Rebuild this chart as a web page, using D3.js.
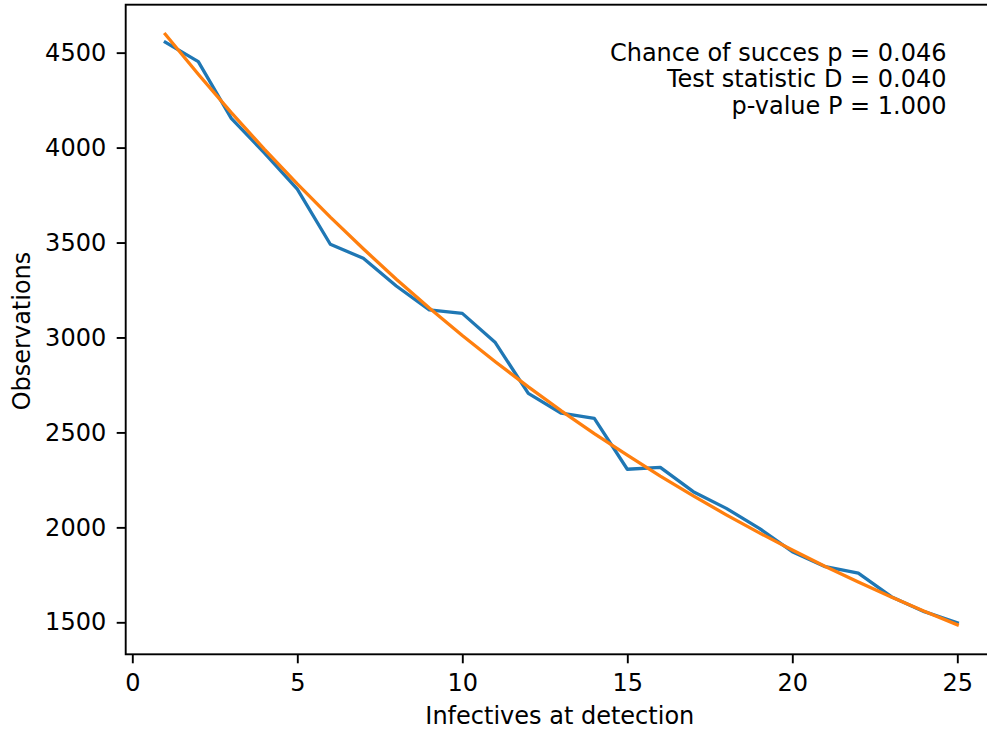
<!DOCTYPE html>
<html>
<head>
<meta charset="utf-8">
<script src="https://cdn.jsdelivr.net/npm/d3@7"></script>
<style>
  html, body { margin: 0; padding: 0; background: #fff; }
  svg { display: block; }
  text { font-family: "DejaVu Sans", sans-serif; fill: #000; }
</style>
</head>
<body>
<svg id="chart" width="987" height="731"></svg>
<script>
// ---- data ----
const infectives = [1,2,3,4,5,6,7,8,9,10,11,12,13,14,15,16,17,18,19,20,21,22,23,24,25];
const observed = [4555,4453,4154,3972,3781,3491,3417,3271,3145,3127,2973,2706,2601,2574,2306,2316,2188,2100,1995,1872,1793,1759,1635,1556,1498];
const fitted = [4597,4386,4184,3992,3809,3634,3467,3307,3155,3010,2872,2740,2614,2494,2380,2270,2166,2066,1971,1881,1794,1712,1633,1558,1487];
const xTicks = [0,5,10,15,20,25];
const yTicks = [1500,2000,2500,3000,3500,4000,4500];
const annotation = [
  "Chance of succes p = 0.046",
  "Test statistic D = 0.040",
  "p-value P = 1.000"
];
const xLabel = "Infectives at detection";
const yLabel = "Observations";

// ---- layout ----
const plotLeft = 125.7, plotRight = 996.9, plotTop = 4.7, plotBottom = 654.3;
const fontSize = 24;

const svg = d3.select("#chart");

function padded(ext) {
  const m = (ext[1] - ext[0]) * 0.05;
  return [ext[0] - m, ext[1] + m];
}
const x = d3.scaleLinear().domain(padded(d3.extent(infectives))).range([plotLeft, plotRight]);
const allY = observed.concat(fitted);
const y = d3.scaleLinear().domain(padded(d3.extent(allY))).range([plotBottom, plotTop]);

// lines
const line = (vals) => d3.line().x((d, i) => x(infectives[i])).y(d => y(d))(vals);
svg.append("clipPath").attr("id", "clip").append("rect")
  .attr("x", plotLeft).attr("y", plotTop).attr("width", plotRight - plotLeft).attr("height", plotBottom - plotTop);
const plot = svg.append("g").attr("clip-path", "url(#clip)");
plot.append("path").attr("d", line(observed)).attr("fill", "none")
  .attr("stroke", "#1f77b4").attr("stroke-width", 3.3).attr("stroke-linejoin", "round").attr("stroke-linecap", "square");
plot.append("path").attr("d", line(fitted)).attr("fill", "none")
  .attr("stroke", "#ff7f0e").attr("stroke-width", 3.3).attr("stroke-linejoin", "round").attr("stroke-linecap", "square");

// axes
const xAxis = d3.axisBottom(x).tickValues(xTicks).tickFormat(d3.format("d")).tickSize(9).tickPadding(10.5).tickSizeOuter(0);
const yAxis = d3.axisLeft(y).tickValues(yTicks).tickFormat(d3.format("d")).tickSize(9).tickPadding(10.5).tickSizeOuter(0);

const gx = svg.append("g").attr("transform", `translate(0,${plotBottom})`).call(xAxis);
const gy = svg.append("g").attr("transform", `translate(${plotLeft},0)`).call(yAxis);
[gx, gy].forEach(g => {
  g.select(".domain").remove();
  g.selectAll(".tick line").attr("stroke", "#000").attr("stroke-width", 1.9);
  g.selectAll(".tick text").attr("font-size", fontSize).attr("font-family", "DejaVu Sans").attr("fill", "#1a1a1a");
});

// spines
svg.append("rect").attr("x", plotLeft).attr("y", plotTop).attr("width", plotRight - plotLeft).attr("height", plotBottom - plotTop)
  .attr("fill", "none").attr("stroke", "#000").attr("stroke-width", 1.9);

// labels
svg.append("text").attr("x", (plotLeft + plotRight) / 2 - 1.5).attr("y", 724).attr("text-anchor", "middle")
  .attr("font-size", fontSize).attr("fill", "#1a1a1a").text(xLabel);
svg.append("text").attr("transform", `translate(30,${(plotTop + plotBottom) / 2 + 1.5}) rotate(-90)`).attr("text-anchor", "middle")
  .attr("font-size", fontSize).attr("fill", "#1a1a1a").text(yLabel);

// annotation
svg.append("g").selectAll("text").data(annotation).join("text")
  .attr("x", 946.5).attr("y", (d, i) => 60.5 + i * 26.8).attr("text-anchor", "end")
  .attr("font-size", fontSize).attr("fill", "#1a1a1a").text(d => d);
</script>
</body>
</html>
